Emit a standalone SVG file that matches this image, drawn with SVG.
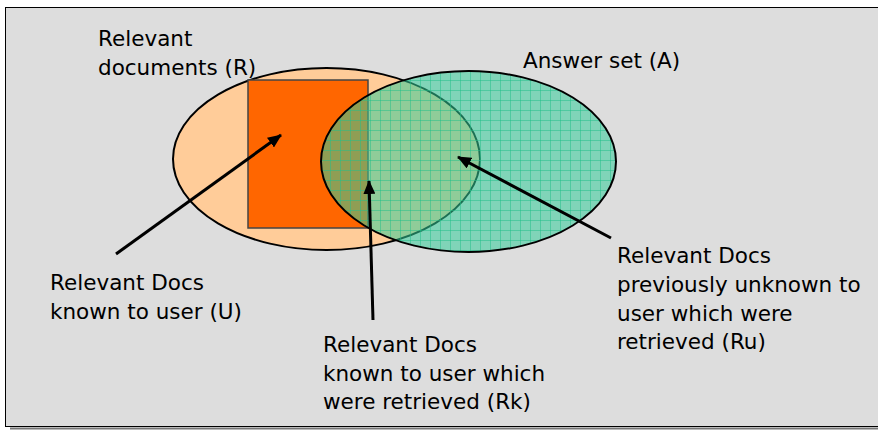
<svg xmlns="http://www.w3.org/2000/svg" width="878" height="430" viewBox="0 0 878 430">
<style>
  .lbl { font-family: "DejaVu Sans", "Liberation Sans", sans-serif; font-size: 21.5px; fill: #000; }
  .arrow { stroke: #000; stroke-width: 3; fill: none; marker-end: url(#ah); }
  .set { stroke: #000; stroke-width: 2; }
</style>
<defs>
  <marker id="ah" markerUnits="userSpaceOnUse" markerWidth="14" markerHeight="12" refX="13" refY="6" orient="auto">
    <path d="M0,0 L14,6 L0,12 Z" fill="#000"/>
  </marker>
  <pattern id="grid" patternUnits="userSpaceOnUse" width="10" height="10">
    <rect width="10" height="10" fill="#33CC99" fill-opacity="0.55"/>
    <path d="M0,0.5 H10 M0.5,0 V10" stroke="#22C08A" stroke-width="1" stroke-opacity="0.5" fill="none"/>
  </pattern>
</defs>
<rect x="0" y="0" width="878" height="430" fill="#FFFFFF"/>
<line x1="10" y1="428.5" x2="878" y2="428.5" stroke="#777" stroke-width="2"/>
<rect x="5.5" y="7.5" width="880" height="419" fill="#DDDDDD" stroke="#000" stroke-width="1"/>

<g id="node-R">
  <ellipse class="set" cx="326.5" cy="159" rx="153.5" ry="91" fill="#FFCC99"/>
</g>
<g id="node-U">
  <rect x="248" y="80" width="120" height="148" fill="#FF6600" stroke="#444" stroke-width="1.5"/>
</g>
<g id="node-A">
  <ellipse class="set" cx="468.5" cy="161.5" rx="147.5" ry="90.5" fill="url(#grid)"/>
</g>

<g id="label-R">
  <text class="lbl" x="98" y="46">Relevant</text>
  <text class="lbl" x="98" y="75">documents (R)</text>
</g>
<g id="label-A">
  <text class="lbl" x="523" y="68">Answer set (A)</text>
</g>
<g id="label-U">
  <text class="lbl" x="50" y="290">Relevant Docs</text>
  <text class="lbl" x="50" y="319">known to user (U)</text>
</g>
<g id="label-Rk">
  <text class="lbl" x="323" y="352">Relevant Docs</text>
  <text class="lbl" x="323" y="381">known to user which</text>
  <text class="lbl" x="323" y="409">were retrieved (Rk)</text>
</g>
<g id="label-Ru">
  <text class="lbl" x="617" y="263">Relevant Docs</text>
  <text class="lbl" x="617" y="292">previously unknown to</text>
  <text class="lbl" x="617" y="321">user which were</text>
  <text class="lbl" x="617" y="349">retrieved (Ru)</text>
</g>

<g id="connectors">
  <line class="arrow" x1="116" y1="254" x2="281" y2="135"/>
  <line class="arrow" x1="373" y1="320" x2="369" y2="181"/>
  <line class="arrow" x1="611" y1="238" x2="458" y2="157"/>
</g>
</svg>
